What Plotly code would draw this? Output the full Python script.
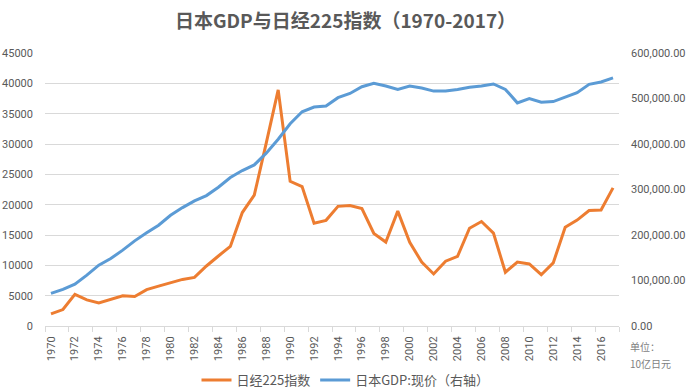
import plotly.graph_objects as go

years = list(range(1970, 2018))

nikkei = [1987, 2713, 5207, 4306, 3817, 4358, 4990, 4865, 6001, 6569,
          7116, 7681, 8016, 9893, 11542, 13113, 18701, 21564, 30159, 38916,
          23849, 22984, 16925, 17417, 19723, 19868, 19361, 15259, 13842, 18934,
          13786, 10543, 8579, 10677, 11489, 16111, 17226, 15308, 8860, 10546,
          10229, 8455, 10395, 16291, 17451, 19034, 19114, 22765]

gdp = [71600, 80400, 92100, 111800, 133800, 148400, 166700, 187100, 204700, 221500,
       243400, 260200, 275000, 286600, 305000, 326200, 341600, 354100, 379800, 410600,
       444400, 470800, 481100, 483300, 501800, 511100, 525900, 533300, 527400, 520000,
       527400, 523000, 516300, 516300, 520000, 524800, 527400, 531900, 520000, 490400,
       500000, 491900, 493300, 502200, 512600, 531100, 536300, 545200]

left_ticks = list(range(0, 45001, 5000))
right_ticks = list(range(0, 600001, 100000))
x_ticks = list(range(1970, 2017, 2))

title_text = "日本GDP与日经225指数（1970-2017）"
name_nikkei = "日经225指数"
name_gdp = "日本GDP:现价（右轴）"
unit_lines = ["单位：", "10亿日元"]

FONT = "Noto Sans CJK SC"
NUMFONT = "Roboto"
GRAY = "#595959"
GRID = "#d9d9d9"

fig = go.Figure()
fig.add_trace(go.Scatter(x=years, y=nikkei, name=name_nikkei, mode="lines",
                         line=dict(color="#ED7D31", width=3), yaxis="y"))
fig.add_trace(go.Scatter(x=years, y=gdp, name=name_gdp, mode="lines",
                         line=dict(color="#5B9BD5", width=3), yaxis="y2"))

fig.update_layout(
    width=691, height=392,
    margin=dict(l=45, r=72, t=53, b=66),
    paper_bgcolor="white", plot_bgcolor="white",
    font=dict(family=FONT, color=GRAY, size=11),
    title=dict(text=f"<b>{title_text}</b>", x=0.5, xref="container", xanchor="center",
               y=1 - 21 / 392, yref="container", yanchor="middle",
               font=dict(size=19, color=GRAY, family=FONT)),
    xaxis=dict(range=[1969.5, 2017.5], tickmode="array", tickvals=x_ticks,
               ticktext=[str(y) for y in x_ticks], tickangle=-90, automargin=False,
               ticks="", showgrid=False, showline=True, linecolor=GRID, linewidth=1,
               zeroline=False, ticklabelstandoff=5,
               tickfont=dict(size=11, color=GRAY, family=NUMFONT),
               minor=dict(ticks="outside", ticklen=5, tickcolor=GRID, tick0=1969.5, dtick=2,
                          showgrid=False)),
    yaxis=dict(range=[0, 45000], tickmode="array", tickvals=left_ticks, automargin=False,
               ticktext=[str(v) for v in left_ticks], showgrid=True, gridcolor=GRID,
               gridwidth=1, zeroline=False, showline=False, ticklabelstandoff=11,
               tickfont=dict(size=11, color=GRAY, family=NUMFONT)),
    yaxis2=dict(range=[0, 600000], overlaying="y", side="right", tickmode="array",
                automargin=False,
                tickvals=right_ticks, ticktext=[f"{v:,.2f}" for v in right_ticks],
                showgrid=False, zeroline=False, showline=False, ticklabelstandoff=11,
                tickfont=dict(size=11, color=GRAY, family=NUMFONT)),
    legend=dict(orientation="h", x=0.5, xref="container", xanchor="center",
                y=12 / 392, yref="container", yanchor="middle",
                font=dict(size=13, color=GRAY, family=FONT), itemwidth=30,
                bgcolor="rgba(0,0,0,0)"),
    showlegend=True,
)

for i, t in enumerate(unit_lines):
    fig.add_annotation(text=t, xref="paper", yref="paper", x=1, xshift=9, xanchor="left",
                       y=0, yshift=-(20 + 17 * i), yanchor="middle", showarrow=False,
                       font=dict(size=10, color="#7f7f7f", family=FONT))

fig.write_html("out.html", config={"displayModeBar": False},
               post_script="document.body.style.margin='0';document.body.style.padding='0';")
